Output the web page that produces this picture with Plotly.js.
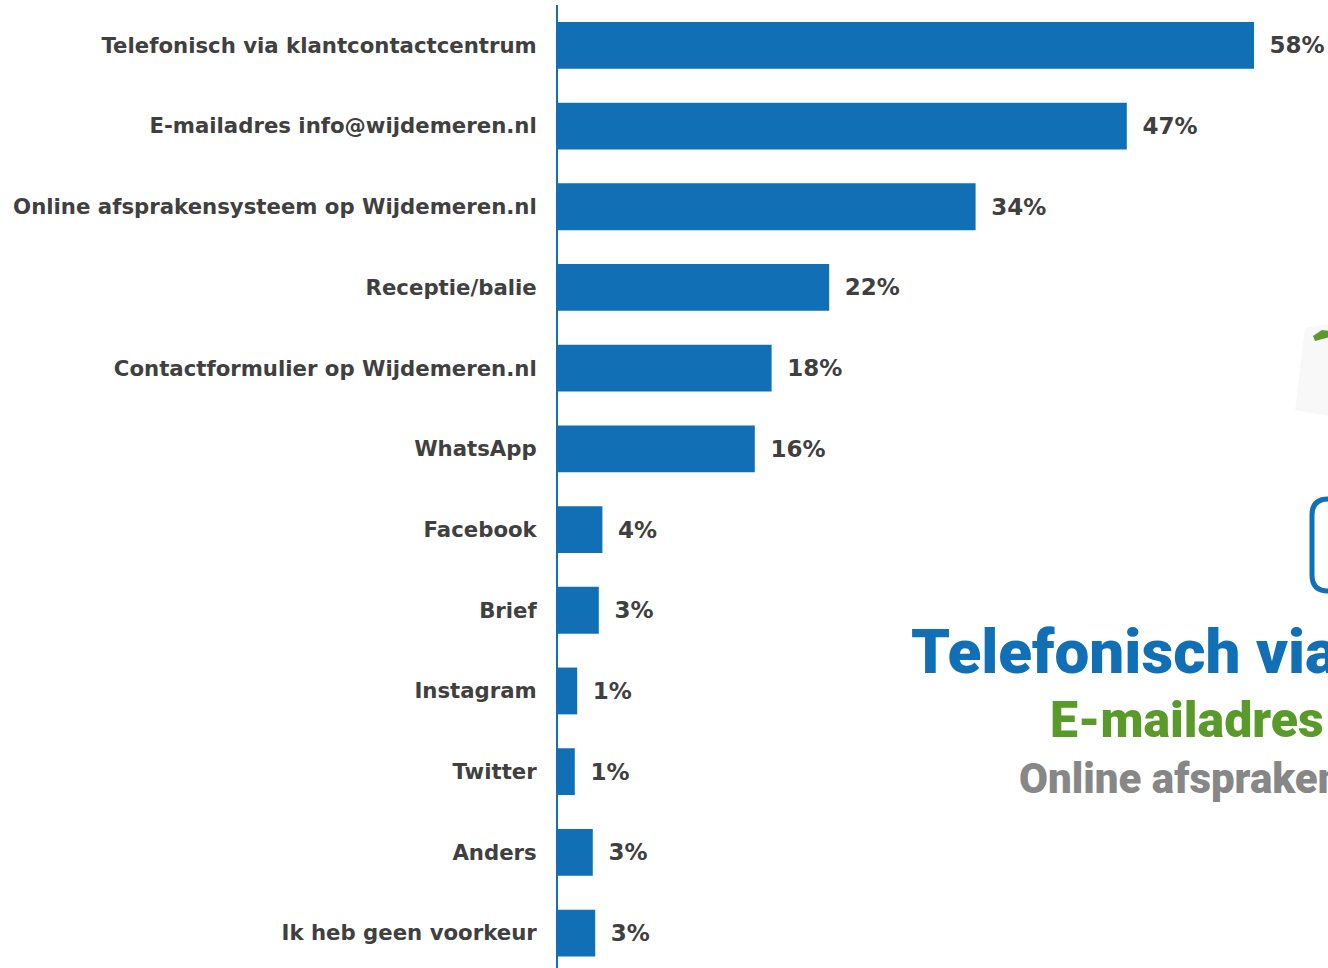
<!DOCTYPE html>
<html>
<head>
<meta charset="utf-8">
<script src="https://cdn.plot.ly/plotly-3.0.1.min.js"></script>
<style>
  body { margin: 0; background: #fff; overflow: hidden; }
  #chart { width: 1328px; height: 968px; }
</style>
</head>
<body>
<div id="chart"></div>
<script>
// Data
const channels = [
    'Telefonisch via klantcontactcentrum',
    'E-mailadres info@wijdemeren.nl',
    'Online afsprakensysteem op Wijdemeren.nl',
    'Receptie/balie',
    'Contactformulier op Wijdemeren.nl',
    'WhatsApp',
    'Facebook',
    'Brief',
    'Instagram',
    'Twitter',
    'Anders',
    'Ik heb geen voorkeur'
];
const shares = [58.0, 47.4, 34.8, 22.6, 17.8, 16.4, 3.7, 3.4, 1.6, 1.4, 2.9, 3.1];
const shareLabels = ['58%', '47%', '34%', '22%', '18%', '16%', '4%', '3%', '1%', '1%', '3%', '3%'];

const W = 1328, H = 968;
const M = { l: 558, r: 0, t: 5, b: 0 };
const plotW = W - M.l - M.r, plotH = H - M.t - M.b;
const pxX = px => (px - M.l) / plotW;
const pxY = py => 1 - (py - M.t) / plotH;

const blue = '#1170b5';
const green = '#5a9a2a';
const grey = '#878787';
const tickFont = { family: 'DejaVu Sans, Verdana, sans-serif', size: 21.25, color: '#404040', weight: 'bold' };
const valueFont = { family: 'DejaVu Sans, Verdana, sans-serif', size: 23, color: '#404040', weight: 'bold' };
const bigFamily = 'Roboto, Liberation Sans, Arial, sans-serif';

const bars = {
    type: 'bar',
    orientation: 'h',
    y: channels,
    x: shares,
    width: 0.58,
    marker: { color: blue },
    text: shareLabels.map(s => '\u00a0\u2009' + s),
    textposition: 'outside',
    textfont: valueFont,
    cliponaxis: false,
    hoverinfo: 'skip'
};

// rounded box outline, given in pixels
function roundRect(x0, y0, x1, y1, r) {
    const P = (x, y) => pxX(x) + ',' + pxY(y);
    return 'M' + P(x0 + r, y0) + ' L' + P(x1 - r, y0) +
        ' Q' + P(x1, y0) + ' ' + P(x1, y0 + r) +
        ' L' + P(x1, y1 - r) + ' Q' + P(x1, y1) + ' ' + P(x1 - r, y1) +
        ' L' + P(x0 + r, y1) + ' Q' + P(x0, y1) + ' ' + P(x0, y1 - r) +
        ' L' + P(x0, y0 + r) + ' Q' + P(x0, y0) + ' ' + P(x0 + r, y0) + ' Z';
}

const layout = {
    width: W,
    height: H,
    margin: M,
    paper_bgcolor: '#ffffff',
    plot_bgcolor: '#ffffff',
    showlegend: false,
    xaxis: {
        range: [0, plotW / 12],
        visible: false,
        fixedrange: true
    },
    yaxis: {
        type: 'category',
        range: [11.433, -0.5],
        autorange: false,
        showline: true,
        linecolor: blue,
        linewidth: 2,
        showgrid: false,
        zeroline: false,
        ticks: '',
        ticklabelstandoff: 15,
        tickfont: tickFont,
        fixedrange: true
    },
    shapes: [
        {
            type: 'path', xref: 'paper', yref: 'paper', layer: 'below',
            path: 'M' + pxX(1305) + ',' + pxY(328) + ' L' + pxX(1340) + ',' + pxY(322) +
                ' L' + pxX(1340) + ',' + pxY(418) + ' L' + pxX(1295) + ',' + pxY(410) + ' Z',
            fillcolor: '#f8f8f8', line: { width: 0 }
        },
        {
            type: 'path', xref: 'paper', yref: 'paper',
            path: 'M' + pxX(1313) + ',' + pxY(336) + ' L' + pxX(1322) + ',' + pxY(330) +
                ' L' + pxX(1330) + ',' + pxY(331) + ' L' + pxX(1330) + ',' + pxY(337) +
                ' L' + pxX(1315) + ',' + pxY(341) + ' Z',
            fillcolor: green, line: { width: 0 }
        },
        {
            type: 'path', xref: 'paper', yref: 'paper',
            path: roundRect(1312, 499, 1370, 591, 16),
            fillcolor: 'rgba(0,0,0,0)', line: { color: blue, width: 5 }
        }
    ],
    annotations: [
        {
            xref: 'paper', yref: 'paper', x: pxX(909), y: pxY(651),
            xanchor: 'left', yanchor: 'middle', showarrow: false,
            text: 'Telefonisch via',
            font: { family: bigFamily, size: 62, color: blue, weight: 900 }
        },
        {
            xref: 'paper', yref: 'paper', x: pxX(1048), y: pxY(720),
            xanchor: 'left', yanchor: 'middle', showarrow: false,
            text: 'E-mailadres',
            font: { family: bigFamily, size: 50, color: green, weight: 900 }
        },
        {
            xref: 'paper', yref: 'paper', x: pxX(1017), y: pxY(778),
            xanchor: 'left', yanchor: 'middle', showarrow: false,
            text: 'Online afspraken',
            font: { family: bigFamily, size: 42, color: grey, weight: 900 }
        }
    ]
};

Plotly.newPlot('chart', [bars], layout, { displayModeBar: false, staticPlot: true });
</script>
</body>
</html>
